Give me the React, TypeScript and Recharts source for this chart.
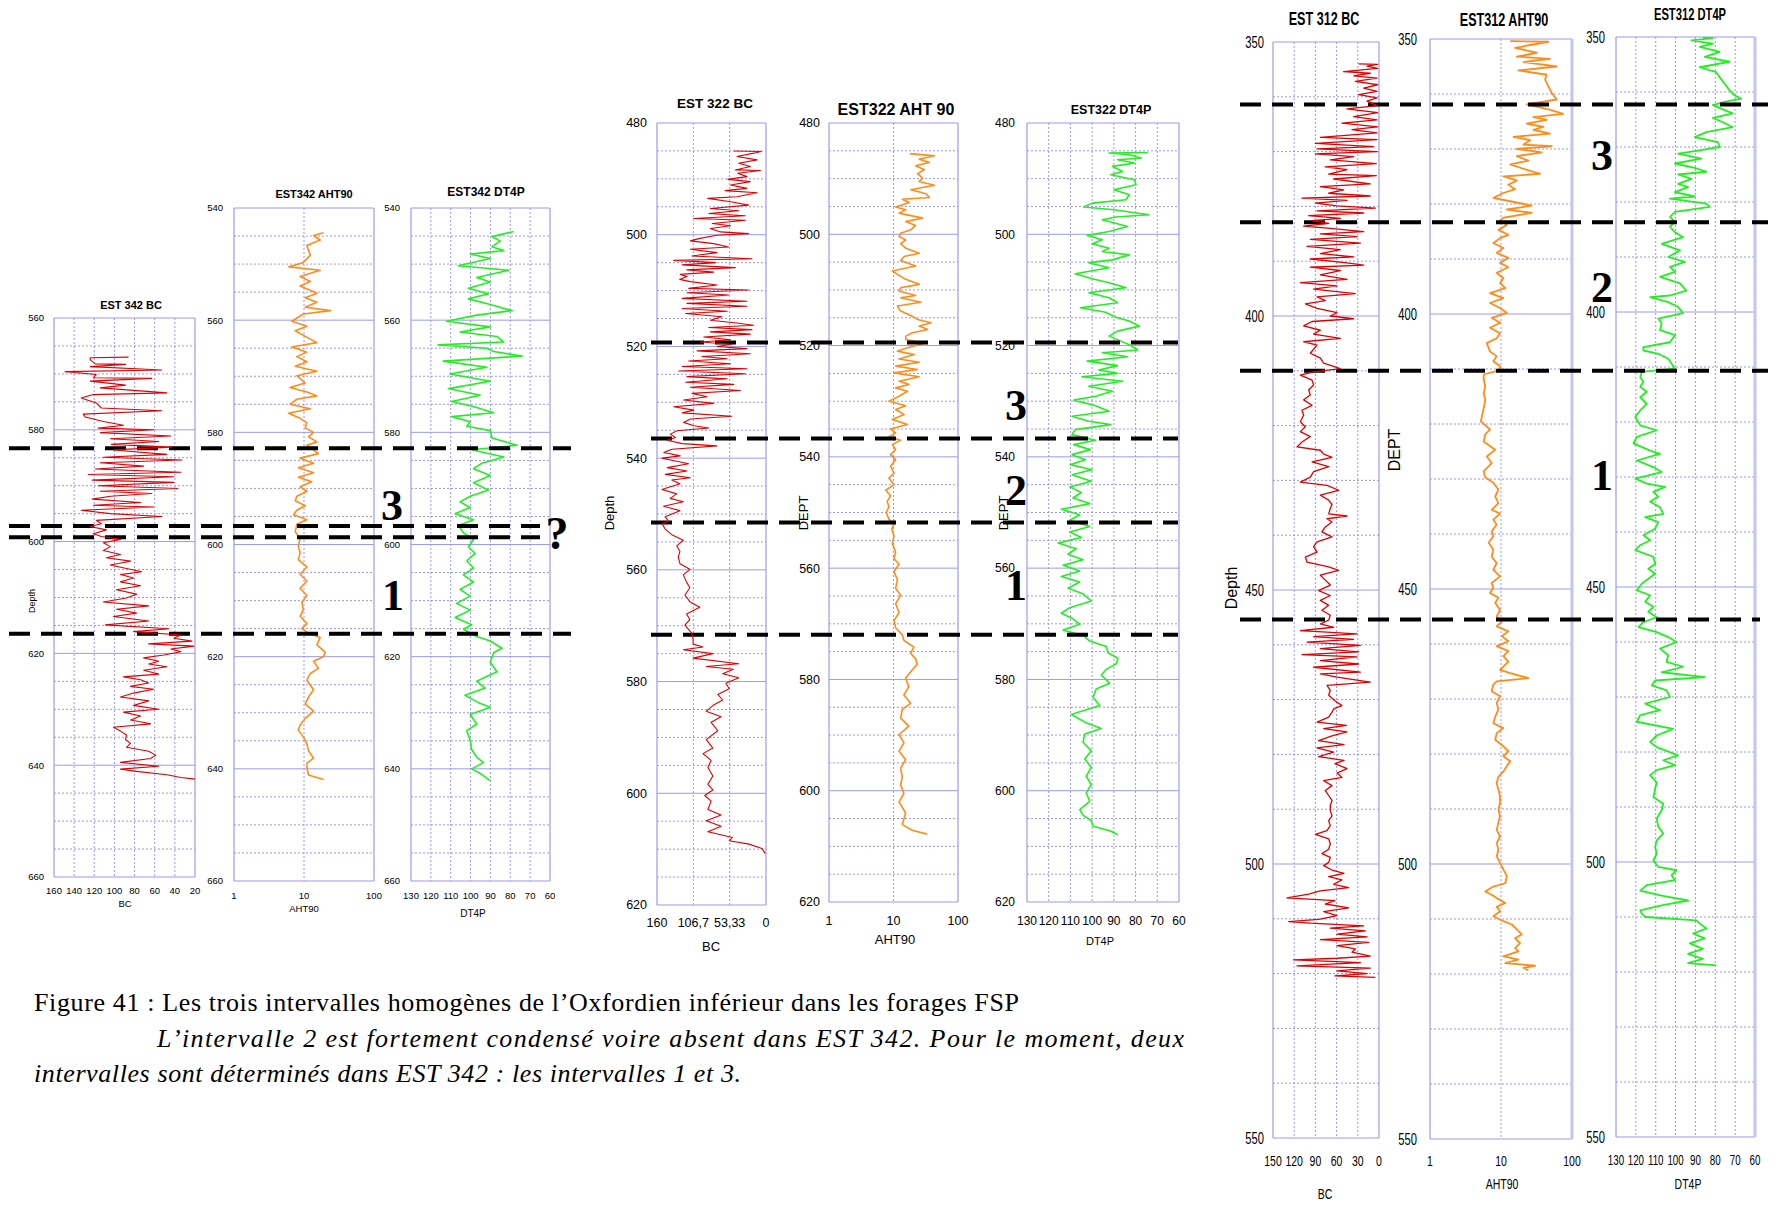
import React from "react";
import { ScatterChart, Scatter, XAxis, YAxis, CartesianGrid, ReferenceLine } from "recharts";

// ---- EST 342 ----
const EST342_BC_DEPTH = [567.0,567.1,567.5,568.2,568.3,568.7,569.3,569.6,570.1,570.7,570.8,571.3,572.0,572.5,573.4,573.7,574.3,575.2,576.1,576.6,577.2,577.7,578.5,579.2,579.7,580.0,580.5,581.1,581.6,582.1,582.6,583.1,583.6,584.4,584.9,585.4,585.9,586.5,587.0,587.6,588.0,588.4,589.0,589.4,590.0,590.5,591.0,591.4,591.9,592.4,593.0,593.5,593.8,594.4,595.0,595.5,596.2,596.8,597.3,597.9,598.6,599.1,599.6,600.2,600.9,601.6,602.3,602.9,603.5,604.2,604.8,605.4,605.9,606.5,607.2,607.9,608.6,609.4,610.1,610.8,611.5,612.1,612.8,613.4,614.2,614.9,615.6,616.1,616.7,617.3,617.8,618.3,618.7,619.2,619.7,620.3,620.8,621.4,621.9,622.4,623.0,623.7,624.2,624.7,625.3,625.9,626.4,627.1,627.8,628.5,629.3,630.0,630.5,631.2,631.9,632.6,633.2,633.9,634.6,635.4,636.1,636.8,637.5,638.2,638.8,639.5,640.2,640.7,641.1,641.7,642.2,642.5];
const EST342_BC = [86,124,124,119,89,124,53,149,118,121,63,124,89,114,48,121,133,118,113,53,131,129,111,91,116,61,114,44,104,56,103,43,101,48,111,33,114,71,119,34,126,41,122,41,116,37,114,63,104,122,74,121,61,133,104,53,118,113,124,108,121,113,94,111,104,111,94,108,84,104,88,73,94,81,94,74,98,78,88,111,66,98,78,101,66,109,46,81,34,41,23,66,21,44,34,51,71,56,66,48,71,56,91,74,66,84,61,81,94,66,81,56,91,74,84,64,101,94,88,89,84,88,66,59,64,94,56,94,78,48,34,20];

const EST342_AHT_DEPTH = [544.4,544.9,545.7,546.7,548.4,549.7,550.5,551.1,552.2,553.1,553.9,555.2,556.0,556.8,557.7,558.3,558.9,560.2,561.1,561.9,563.2,564.0,564.8,565.7,566.5,567.4,568.2,569.1,569.9,571.2,572.0,572.8,573.5,574.1,575.0,575.8,576.6,577.5,578.3,579.2,580.0,580.8,581.7,582.3,582.9,583.8,584.6,585.5,586.3,587.2,588.0,588.8,589.7,590.5,591.4,592.2,593.1,593.9,594.7,595.6,596.4,597.7,599.0,600.2,601.5,602.7,604.0,605.3,606.5,607.8,609.1,610.3,611.6,612.8,614.1,615.0,615.8,616.6,617.9,619.2,620.0,620.8,622.1,623.0,624.2,625.9,627.2,628.4,629.7,631.0,632.2,633.1,634.3,635.6,636.8,638.1,639.0,639.8,641.1,641.9];
const EST342_AHT = [19,13.7,17,11,12.3,9.8,6.1,17,8.8,12.3,8.8,15.3,10.4,15.3,10.4,23.8,9.8,6.7,11,7.5,11.6,15.3,6.7,11,7.9,11,7.5,15.3,7.9,10.4,6.3,11,15.3,7.9,6.3,12.3,6.0,8.8,11,10.4,13.7,11.6,15.3,11,12.9,16.1,8.8,13.7,8.3,13.7,8.3,12.9,8.8,11,7.9,7.5,10.4,7.9,7.1,11,7.9,7.5,8.8,8.3,8.8,8.3,11,8.8,11,8.8,11,9.3,9.8,8.8,11,9.3,11.6,17,15.3,20.1,19,13.7,16.1,12.3,11,13.7,11.6,10.4,13.7,10.4,8.8,8.3,9.8,11,11.6,13.7,11,11,11.6,19];

const EST342_DT_DEPTH = [544.2,545.1,545.9,546.9,547.6,548.2,549.0,550.3,551.1,552.4,553.2,554.3,555.3,556.2,557.2,558.3,559.1,560.2,561.2,562.1,562.9,563.9,564.4,565.0,565.6,566.4,567.3,568.4,569.6,570.9,572.2,573.4,574.5,575.5,576.5,577.2,578.1,578.9,579.7,581.0,582.3,583.1,584.4,585.5,586.5,587.7,589.0,590.3,591.4,592.4,593.4,594.5,595.6,596.6,597.9,599.1,600.4,601.6,602.9,604.2,605.4,606.7,608.0,609.2,610.5,611.7,613.0,614.3,615.1,616.4,617.2,618.5,619.3,621.0,622.7,624.4,625.6,626.9,628.2,629.0,630.3,632.0,633.2,634.9,636.6,637.9,638.9,640.0,640.8,642.1];
const EST342_DT = [78.3,89.2,85,89.2,83.3,100.2,90.1,106.2,80.8,96.9,90.1,101.1,90.9,101.1,90.1,79.1,96.9,112.1,90.1,105.3,86.7,83.3,116.3,91.8,88.4,74,113.8,91.8,110.4,90.1,111.2,95.2,109.5,97.7,88.4,109.5,100.2,101.9,90.1,89.2,76.6,99.4,83.3,94.3,98.5,90.1,98.5,90.9,100.2,105.3,100.2,107.8,98.5,106.2,103.6,98.5,101.1,97.7,101.9,98.5,103.6,98.5,105.3,100.2,107.1,100.2,107.8,99.4,103.6,96.9,90.1,84.2,88.4,90.1,86.7,96.9,92.6,102.8,96,90.1,100.2,96.9,101.9,100.2,99.4,96.9,93.5,99.4,95.2,90.1];

// ---- EST 322 ----
const EST322_BC_DEPTH = [485.0,485.1,485.4,486.0,486.6,487.2,487.8,488.4,488.5,489.0,489.6,490.1,490.5,491.1,491.7,492.1,492.5,493.2,493.5,494.1,494.7,495.3,495.7,496.2,496.6,497.1,497.4,498.0,498.4,498.9,499.5,499.8,500.1,500.7,501.1,501.6,502.2,502.6,503.2,503.8,504.3,504.6,505.0,505.4,505.9,506.3,506.7,507.1,507.5,508.0,508.4,509.0,509.6,509.9,510.4,510.8,511.4,511.9,512.3,512.8,513.2,513.7,514.1,514.7,515.3,515.8,516.2,516.6,517.0,517.4,517.8,518.3,518.8,519.2,519.6,520.0,520.4,520.8,521.3,521.8,522.2,522.6,523.1,523.6,524.0,524.4,524.9,525.4,525.8,526.4,526.8,527.3,527.9,528.4,529.0,529.6,530.2,530.8,531.4,531.9,532.5,533.0,533.6,534.2,534.6,535.1,535.7,536.3,536.8,537.4,537.8,538.4,539.0,539.6,540.0,540.5,541.0,541.7,542.3,542.9,543.5,543.9,544.6,545.6,546.4,547.2,547.8,548.6,549.4,550.5,551.3,551.7,552.7,553.7,554.7,555.7,556.7,557.7,558.9,559.9,560.9,562.2,563.2,564.5,565.7,566.7,567.9,568.9,569.9,571.3,572.3,573.3,573.8,574.3,575.0,575.8,576.8,577.3,577.8,578.6,579.3,580.3,581.3,582.3,583.3,584.3,585.3,586.3,587.3,588.8,590.4,591.9,592.9,594.1,595.4,596.9,598.4,599.4,600.4,601.4,602.9,603.9,604.9,605.9,606.9,607.9,608.5,609.1,609.9,610.8];
const EST322_BC = [47.5,7,18,42.6,13,40,23,45,8,41.6,28,56,23,52,28,60,13,42.6,85.6,52,25.5,81.7,40,84,30.4,106,30.4,79,52,81.7,67,25.5,72,98.8,111,76.8,54.8,111,72,108.6,20.6,135.5,74,123,45,116,76.8,125.8,116,126.7,111,72,113.5,25.5,116,54.8,123,28,116,28,123,57,118,64.6,81.7,42.6,18,84,20.6,81.7,23,91.5,52,96.4,50,72,28,101,23,94,57,113.5,52,123,28,128,30.4,116,57,118,47.5,111,37.7,108.6,86.6,121,76.8,135.5,106,123,50,111,121,106,84,130.6,140.4,133,145,123,72,138,150,125.8,152.7,133,113.5,145,116,147.8,111,138.3,126.3,152.8,131,140.7,121.4,150.4,126.3,148,143,152.8,148,138.3,121.4,131,126.3,128.7,126.3,111.8,121.4,116.6,111.8,119,111.8,97.3,116.6,111.8,119,109.4,107,107,92.5,121.4,78,107,40,87.7,48,63.6,40,58.8,54,70.8,63.6,78,87.7,66,80.5,70.8,87.7,78,92.5,80.5,85.3,78,85.3,78,90,80.5,85.3,66,87.7,66,85.3,49.2,54,25,5.8,1];

const EST322_AHT_DEPTH = [485.5,485.9,486.5,487.1,487.7,488.4,489.1,489.9,490.5,491.2,492.0,492.7,493.4,493.7,494.3,495.1,495.6,496.2,497.1,497.7,498.4,499.2,499.8,500.4,501.0,501.7,502.5,503.4,504.0,504.7,505.7,506.6,507.2,508.1,509.0,509.6,510.2,511.0,511.4,512.2,512.9,513.8,514.6,515.3,515.9,516.5,517.1,517.7,518.3,518.9,519.6,520.4,521.0,521.6,522.4,523.0,523.7,524.3,524.9,525.6,526.4,527.0,527.6,528.2,529.1,530.0,530.8,531.5,532.4,533.3,534.2,535.0,535.7,536.4,537.0,537.8,538.7,539.6,540.5,541.7,542.9,543.8,545.0,546.0,547.0,548.0,549.0,550.0,551.2,552.0,553.0,554.2,555.6,557.1,558.3,559.3,560.6,562.1,563.6,564.9,566.4,568.0,569.4,570.7,572.0,573.0,574.2,575.3,576.3,577.3,578.3,579.8,581.3,582.8,584.3,585.4,586.9,588.4,589.9,591.4,592.9,594.4,596.0,597.5,599.0,600.5,602.0,603.0,604.0,605.1,606.1,607.1,607.8];
const EST322_AHT = [17.9,43,25,36,22,30,23.6,28.3,25,43,18.6,31.9,36,13.7,17.5,10.8,15.5,12.2,28.3,15.5,22,18.6,12.9,12.2,15.5,12.9,15.5,25,14.6,12.9,22,9.6,11.5,15.5,25,12.9,12.2,22,12.9,26.7,11.5,12.9,18.6,23.6,38.2,25,33.9,19.7,15.5,15.5,30,16.5,11.5,20.9,12.2,25,10.8,23.6,10.2,25,12.2,17.5,10.8,16.5,12.2,8.5,15.5,10.8,14.6,9.6,16.5,9.0,10.8,8.5,12.9,9.6,10.8,9.0,10.8,9.0,10.2,8.5,10.2,7.6,9.0,8.0,8.5,7.7,8.5,10.2,9.4,10.2,9.6,10.8,10.2,12.2,10.2,11.5,10.8,12.9,10.8,12.2,10.2,10.8,13.7,14.5,20.7,18.4,22,23.3,19.5,15.4,17.3,14.5,18.4,13.7,12.9,17.3,12.2,14.5,12.2,15.4,12.9,13.7,12.9,14.5,12.2,13.7,15.4,14.5,13.7,19.5,33.3];

const EST322_DT_DEPTH = [485.3,485.4,485.7,486.3,486.6,487.2,487.8,488.7,489.3,490.2,491.1,492.0,492.9,493.8,494.4,495.1,495.6,496.5,496.9,497.4,498.6,499.5,500.2,501.0,501.7,502.5,503.1,503.7,504.6,505.1,506.0,507.1,508.0,508.7,509.6,510.5,511.4,512.3,513.2,514.0,514.9,515.6,516.5,517.4,518.3,519.2,520.0,520.8,521.3,522.0,522.8,523.6,524.4,525.0,525.6,526.4,527.3,528.2,529.1,529.8,530.8,531.8,532.7,533.6,534.2,535.1,536.0,537.0,537.8,538.7,539.6,540.5,541.4,542.3,543.2,544.4,545.4,546.4,547.4,548.4,549.4,550.4,551.4,552.5,553.5,554.5,555.5,556.5,557.5,558.5,559.5,560.5,561.5,562.5,563.6,564.6,565.9,567.1,568.1,569.1,570.1,571.1,572.1,573.1,574.1,575.2,576.2,577.2,578.2,579.2,580.7,581.7,583.2,584.7,586.3,587.8,588.8,589.8,591.3,592.8,594.3,595.8,597.4,598.9,600.4,601.9,603.4,604.4,605.4,606.4,607.2,607.9];
const EST322_DT = [74.3,92.2,82.9,77.4,88.3,80.5,90.7,86,91.4,80.5,79.8,89.9,82.9,84.4,100,103.9,89.9,73.9,89.1,95.3,83.7,92.2,102.3,95.3,100,92.2,95.3,82.9,90.7,101.5,92.2,107.8,100,92.2,84.4,101.5,92.2,88.3,105.4,93.8,89.1,82.9,78.2,88.3,92.2,86.8,82.1,79,95.3,83.7,102.3,88.3,96.9,88.3,104.7,86,101.5,90.7,98.4,108.5,98.4,92.2,109.3,101.5,91.4,107.8,109.3,98.4,108.5,100.8,109.3,103.1,110.1,100,109.3,100.4,110.3,105,108.8,101.1,114.2,105.7,110.3,101.1,110.3,105,115.7,107.3,111.1,104.2,113.4,105.7,114.2,105.7,111.1,104.2,100.4,110.3,114.2,108.8,105.7,113.4,104.2,101.1,93.5,92.7,88.1,88.9,93.5,95.8,91.9,98.1,99.6,96.5,109.6,102.7,95.8,103.4,104.2,100.4,103.4,100.4,102.7,100.4,102.7,101.1,105.7,104.2,100.4,99.6,91.9,88.1];

// ---- EST 312 ----
const EST312_BC_DEPTH = [354.0,354.1,354.4,354.8,355.4,355.7,356.2,356.6,357.2,357.8,358.4,359.0,359.6,360.2,360.8,361.6,362.2,362.9,363.6,364.2,364.8,365.5,366.0,366.6,367.4,367.8,368.5,369.1,369.5,370.0,370.4,370.9,371.5,372.2,372.8,373.3,374.1,374.4,375.0,375.9,376.4,377.0,377.6,378.1,378.5,378.9,379.4,379.9,380.3,380.8,381.2,381.7,382.2,382.6,383.1,383.6,384.0,384.6,385.0,385.5,386.0,386.7,387.3,387.9,388.6,389.2,389.6,390.3,390.7,391.1,391.7,392.5,393.3,393.9,394.5,395.1,395.9,396.5,397.2,397.8,398.6,399.4,400.0,400.5,401.0,401.8,402.6,403.3,404.1,404.7,405.3,406.8,407.7,408.6,409.6,410.2,410.8,411.7,412.6,413.5,414.4,415.3,416.3,417.2,418.1,419.3,420.2,421.1,422.0,423.0,423.9,424.5,425.2,425.8,426.6,427.5,428.4,429.4,430.3,430.9,431.8,432.7,433.6,434.4,435.1,436.1,436.5,437.0,437.6,438.5,439.4,440.3,441.2,442.1,443.1,444.0,444.9,445.8,446.4,447.3,448.2,449.1,450.1,451.0,451.9,452.8,453.7,454.6,455.5,456.2,456.8,457.4,458.0,458.5,459.0,459.5,460.1,460.7,461.3,461.8,462.2,462.9,463.5,464.1,465.0,465.3,465.9,466.8,467.4,468.3,469.2,470.2,471.1,471.7,472.3,473.2,474.1,474.7,475.3,475.9,476.6,477.5,478.2,478.8,479.6,480.4,481.1,481.7,482.6,483.4,484.2,484.8,485.7,486.6,487.5,488.4,489.3,490.3,491.2,492.1,493.0,493.9,494.6,495.4,496.3,497.3,498.1,498.8,499.7,500.3,501.1,501.7,502.3,502.9,503.7,504.3,504.9,505.5,506.2,506.7,507.3,508.0,508.7,509.4,510.1,510.5,510.8,511.3,511.7,512.2,512.8,513.3,513.8,514.3,514.9,515.5,516.1,516.8,517.2,517.5,518.0,518.6,519.0,519.5,520.0,520.4,520.7];
const EST312_BC = [28.8,1.9,17,1.9,50,12.3,35.8,2.8,33.5,1.9,21.7,2.8,28.8,2.8,17,2.8,45.3,1.9,35.8,2.8,52.4,1.9,38.2,2.8,83,2.8,90,7.5,87.7,2.8,90,35.8,68.9,3.8,76,45.3,71.2,3.8,64.2,12.3,83,50,71.2,12.3,109,45.3,90,59.4,5.2,87.7,21.7,99.5,54.7,94.8,71.2,106.6,68.9,21.7,83,31.1,97.2,26.4,101.9,54.7,83,35.8,97.2,45.3,21.7,97.2,54.7,83,45.3,111.3,59.4,92.5,33.5,87.7,76,104.2,87.7,59.4,68.9,35.8,94.8,106.6,83,92.5,54.7,106.6,87.7,97.2,83,78.3,54.7,92.5,111.3,94.8,92.5,99.5,97.2,106.6,94.8,109,106.6,111.3,104.2,111.3,97.2,109,116,83,78.3,66.5,94.8,71.2,92.5,97.2,111.3,73.6,57.1,83,71.2,66.5,68.9,71.2,45.3,73.6,66.5,76,80.7,66.5,87.7,92.5,87.7,104.2,101.9,71.2,57.1,83,76,68.9,85.4,68.9,83,71.2,80.7,68.9,71.2,83,64.2,111.3,31.1,92.5,35.8,101.9,26.4,83,28.8,109,31.1,83,28.8,92.5,26.4,83,59.4,12.3,73.6,68.9,71.2,62.3,52.4,64.2,66.5,71.2,87.7,46.2,78.3,45.3,66.5,85.4,49.5,87.7,64.2,85.4,49.5,62.3,45.3,59.4,52.4,78.3,66.5,76,71.2,66.5,68.9,68.9,66.5,71.2,68.9,73.6,90,71.2,68.9,71.2,80.7,68.9,71.2,78.3,66.5,49.5,71.2,52.4,64.2,42.9,83,99.5,130.2,62.3,76,42.9,78.3,59.4,85.4,127.8,97.2,21.7,68.9,19.3,59.4,16.9,83,14.6,59.4,33.5,38.2,12.3,59.4,120.8,26.4,116,12.3,59.4,16.9,62.3,5.2];

const EST312_AHT_DEPTH = [350.4,350.5,351.0,351.6,352.5,353.2,353.6,354.2,355.0,355.7,356.5,357.4,358.6,359.8,361.0,361.9,362.8,363.6,364.2,364.7,365.4,366.0,366.5,367.2,367.8,368.4,369.2,369.5,370.0,370.6,371.3,372.1,372.8,373.8,374.5,375.0,375.7,376.5,377.3,378.0,378.9,379.5,380.3,381.0,381.6,382.5,383.0,383.8,384.7,385.6,386.2,387.1,388.0,388.9,389.8,390.7,391.5,392.5,393.5,394.4,395.3,396.2,397.1,398.0,398.9,399.8,400.7,401.6,402.5,403.5,404.4,405.3,406.8,407.7,408.6,409.5,410.2,411.0,411.9,413.2,414.4,415.6,417.1,418.6,419.5,421.0,421.9,423.2,424.7,425.9,427.1,428.6,429.7,430.7,431.9,433.2,434.4,435.6,436.3,437.4,438.3,439.5,440.4,441.6,442.8,444.1,445.3,446.5,447.7,448.9,449.8,450.7,451.6,452.5,453.8,455.0,455.9,456.8,457.7,458.6,459.5,460.4,461.3,462.2,463.2,464.1,464.7,465.3,466.2,466.8,467.4,468.6,469.5,470.7,471.9,473.2,474.4,475.3,476.2,477.4,478.6,479.5,480.4,481.3,482.2,483.2,484.1,485.3,486.5,487.7,488.9,490.1,491.3,492.5,493.8,495.0,496.2,497.4,498.6,499.8,501.0,502.2,503.5,504.1,505.0,505.6,506.2,507.1,507.8,508.6,509.5,510.4,511.0,511.9,512.8,513.5,514.4,515.3,515.9,516.8,517.4,518.0,518.5,518.9,519.3];
const EST312_AHT = [13.5,46.5,28.6,15.8,31.9,16.7,49.1,20.7,60.9,17.6,44,41.8,46.5,51.8,60.9,23.1,46.5,75.5,28.6,44,23.1,39.5,28.6,49.1,15,25.7,20.7,51.8,16.7,37.5,16.7,24.3,13.5,23.1,35.5,10.8,16.7,12.7,15.8,10.8,7.8,13.5,27.1,12.1,27.1,10.8,9.7,12.1,9.2,12.7,9.7,7.8,10.8,8.7,12.7,9.7,12.7,8.7,10.8,9.7,11.5,7.0,10.8,7.0,9.7,12.1,7.4,9.7,7.0,9.7,8.7,6.3,7.0,8.7,7.8,9.7,9.7,5.7,5.7,6.0,5.7,6.0,5.7,5.4,5.2,7.0,6.0,5.7,8.3,6.3,7.4,5.7,6.0,7.8,9.2,8.3,9.2,7.4,9.7,7.8,8.7,7.4,7.8,6.7,7.8,7.4,8.7,7.8,9.7,7.4,7.8,7.0,9.2,8.3,9.7,8.7,10.3,8.7,12.7,10.3,12.7,8.7,12.7,10.8,12.7,10.8,9.7,13.5,24.3,8.7,7.8,7.4,9.7,8.7,9.2,8.3,7.8,10.8,8.7,8.3,10.8,12.7,10.8,13.5,12.1,10.8,9.2,8.7,9.2,9.7,9.7,9.2,9.7,9.2,8.7,9.7,8.7,9.2,8.7,9.7,10.8,12.1,11.5,7.8,6.0,7.4,8.7,11.5,8.7,9.7,7.8,10.8,14.2,16.7,19.6,15.8,18.6,15.8,17.6,10.8,17.6,11.5,30.2,20.7,24.3];

const EST312_DT_DEPTH = [350.1,350.2,350.6,351.2,351.8,352.7,353.6,354.5,355.5,356.4,357.3,358.5,359.7,360.6,361.2,361.8,362.4,363.3,363.9,364.7,365.5,366.4,367.3,368.2,369.1,370.0,370.7,371.2,372.1,373.0,373.8,374.5,375.0,375.8,376.7,377.3,378.2,379.0,379.4,380.3,380.9,381.8,382.7,383.6,384.5,385.5,386.4,387.6,388.8,390.0,390.9,391.8,392.7,393.6,394.8,396.1,397.0,397.3,398.2,399.1,400.2,401.2,402.1,403.3,404.2,405.5,406.4,407.0,407.6,408.5,409.4,410.3,410.9,411.8,412.7,413.6,414.5,415.5,416.7,417.9,419.1,420.6,421.5,422.7,423.9,425.2,425.8,427.0,428.2,429.1,430.3,431.2,431.8,432.7,433.6,434.5,435.5,436.7,437.3,438.2,439.4,440.6,441.5,442.4,443.3,444.5,445.8,446.7,447.6,448.5,449.4,450.6,451.5,452.7,453.6,454.5,455.5,456.4,457.3,458.2,459.1,460.0,461.2,462.4,463.6,464.5,465.5,466.4,467.0,467.9,468.8,470.0,471.2,472.4,473.3,474.5,475.8,477.0,478.2,479.1,480.6,481.5,482.4,483.3,484.2,485.5,486.7,488.2,489.4,490.6,492.1,493.6,494.8,496.1,497.3,498.5,499.7,500.9,501.5,502.4,503.3,504.2,505.2,506.1,507.0,507.9,508.8,509.4,510.0,510.6,511.2,512.1,513.0,513.9,514.8,515.8,516.7,517.6,518.4,518.8];
const EST312_DT = [86.2,81.2,92,81.2,87.8,77.8,85.3,72.8,87.8,79.5,77.8,75.3,72.8,70.3,67,75.3,81.2,75.3,71.2,81.2,76.2,71.2,84.5,90.3,78.7,77.8,89.5,98.7,87,100.3,90.3,84.5,98.7,92,98.7,93.7,100.3,90.3,102.8,84.5,82.8,100.3,102.8,100.3,102.8,100.3,96.2,107,97.8,103.7,95.3,102.8,100.3,107.8,97.8,94.5,102.8,112.8,103.7,98.7,96.2,108.7,107,107.8,100.3,102.8,116.2,116.2,108.7,103.7,102,100.3,117,117.8,116.2,117.8,114.5,117.8,114.5,117.8,120.3,117.8,109.5,119.5,121.2,112.8,107.8,119.5,111.2,107,120.3,114.5,105.3,111.2,108.7,112.8,107.8,106.2,115.3,108.7,110.3,116.2,112.8,117.8,120.3,111.2,110.3,113.7,110.3,113.7,117,119.5,112.8,115.3,111.2,113.7,109.5,116.2,118.7,109.5,103.7,99.5,107.8,103.7,104.5,96.2,107,85.3,110.3,112,104.5,102.8,115.3,107.8,117.8,119.5,101.2,109.5,112.8,109.5,98.7,106.2,100.3,109.5,112.8,109.5,110.3,111.2,106.2,107,109.5,108.7,106.2,109.5,110.3,109.5,111.2,108.7,99.5,102,100.3,114.5,117.8,107,93.7,107,117.8,117,115.3,89.5,87.8,84.5,91.2,85.3,92.8,86.2,93.7,86.2,93.7,79.5];

// ---- axis ticks ----
const BC342_TICKS = [160, 140, 120, 100, 80, 60, 40, 20];
const AHT_TICKS = [1, 10, 100];
const DT_TICKS = [130, 120, 110, 100, 90, 80, 70, 60];
const BC322_TICKS = [160, 106.7, 53.33, 0];
const BC312_TICKS = [150, 120, 90, 60, 30, 0];
const DEPTH_342A = [560, 580, 600, 620, 640, 660];
const DEPTH_342 = [540, 560, 580, 600, 620, 640, 660];
const DEPTH_322 = [480, 500, 520, 540, 560, 580, 600, 620];
const DEPTH_312 = [350, 400, 450, 500, 550];

// interval boundaries (depth) per well
const LIMITS_342 = [583.3, 597.2, 599.2, 616.5];
const LIMITS_322 = [519.3, 536.5, 551.5, 571.6];
const LIMITS_312 = [361.4, 382.9, 410.0, 455.4];

const SANS = '"Liberation Sans", Arial, sans-serif';
const SERIF = '"Liberation Serif", "Times New Roman", serif';
const GRID = "#8c8ce6";
const FRAME = "#9a9aee";
const RED = "#e00000";
const ORANGE = "#ff8c1a";
const GREEN = "#22ee22";
const NARROW_X = 0.7; // the EST 312 logs use a condensed face

const steps = (a: number, b: number, s: number) => {
  const out: number[] = [];
  for (let v = a; v <= b + 1e-6; v += s) out.push(v);
  return out;
};

type Dash = { depth: number; from: number; to: number };
type PanelDef = {
  key: string;
  plot: { x: number; y: number; w: number; h: number };
  depths: number[];
  values: number[];
  depthDomain: [number, number];
  depthTicks: number[];
  minorStep: number;
  xDomain: [number, number];
  xTicks: number[];
  log?: boolean;
  reversed?: boolean;
  color: string;
  lw: number;
  fontSize: number;
  xFontSize?: number;
  squeeze?: number;
  xMargin: number;
  yMargin: number;
  xFmt?: (v: number) => string;
  dashes?: Dash[];
  rightFrame?: number;
};

const dashRow = (limits: number[], from: number, to: number[]): Dash[] =>
  limits.map((d, i) => ({ depth: d, from, to: to[i] }));

const PANELS: PanelDef[] = [
  {
    key: "342bc", plot: { x: 54, y: 318, w: 141, h: 559 },
    depths: EST342_BC_DEPTH, values: EST342_BC, depthDomain: [560, 660], depthTicks: DEPTH_342A, minorStep: 5,
    xDomain: [20, 160], xTicks: BC342_TICKS, reversed: true, color: RED, lw: 1.1,
    fontSize: 9.5, xMargin: 10, yMargin: 10,
    dashes: dashRow(LIMITS_342, 9, [571, 540, 540, 571]),
  },
  {
    key: "342aht", plot: { x: 234, y: 208, w: 140, h: 673 },
    depths: EST342_AHT_DEPTH, values: EST342_AHT, depthDomain: [540, 660], depthTicks: DEPTH_342, minorStep: 5,
    xDomain: [1, 100], xTicks: AHT_TICKS, log: true, color: ORANGE, lw: 1.6,
    fontSize: 9.5, xMargin: 11, yMargin: 11,
  },
  {
    key: "342dt", plot: { x: 411, y: 208, w: 139, h: 673 },
    depths: EST342_DT_DEPTH, values: EST342_DT, depthDomain: [540, 660], depthTicks: DEPTH_342, minorStep: 5,
    xDomain: [60, 130], xTicks: DT_TICKS, reversed: true, color: GREEN, lw: 1.6,
    fontSize: 9.5, xMargin: 11, yMargin: 11,
  },
  {
    key: "322bc", plot: { x: 657, y: 123, w: 109, h: 782 },
    depths: EST322_BC_DEPTH, values: EST322_BC, depthDomain: [480, 620], depthTicks: DEPTH_322, minorStep: 5,
    xDomain: [0, 160], xTicks: BC322_TICKS, reversed: true, color: RED, lw: 1.1,
    fontSize: 12.5, xMargin: 13, yMargin: 10,
    xFmt: (v: number) => String(v).replace(".", ","),
    dashes: dashRow(LIMITS_322, 651, [1178, 1178, 1178, 1178]),
  },
  {
    key: "322aht", plot: { x: 829, y: 123, w: 129, h: 779 },
    depths: EST322_AHT_DEPTH, values: EST322_AHT, depthDomain: [480, 620], depthTicks: DEPTH_322, minorStep: 5,
    xDomain: [1, 100], xTicks: AHT_TICKS, log: true, color: ORANGE, lw: 1.6,
    fontSize: 12.5, xMargin: 14, yMargin: 9,
  },
  {
    key: "322dt", plot: { x: 1027, y: 123, w: 152, h: 779 },
    depths: EST322_DT_DEPTH, values: EST322_DT, depthDomain: [480, 620], depthTicks: DEPTH_322, minorStep: 5,
    xDomain: [60, 130], xTicks: DT_TICKS, reversed: true, color: GREEN, lw: 1.6,
    fontSize: 12, xMargin: 14, yMargin: 12,
  },
  {
    key: "312bc", plot: { x: 1273, y: 42, w: 106, h: 1096 },
    depths: EST312_BC_DEPTH, values: EST312_BC, depthDomain: [350, 550], depthTicks: DEPTH_312, minorStep: 10,
    xDomain: [0, 150], xTicks: BC312_TICKS, reversed: true, color: RED, lw: 1.3,
    fontSize: 16, xFontSize: 15, squeeze: NARROW_X, xMargin: 17, yMargin: 9,
    dashes: dashRow(LIMITS_312, 1240, [1768, 1768, 1768, 1760]),
  },
  {
    key: "312aht", plot: { x: 1430, y: 39, w: 142, h: 1100 },
    depths: EST312_AHT_DEPTH, values: EST312_AHT, depthDomain: [350, 550], depthTicks: DEPTH_312, minorStep: 10,
    xDomain: [1, 100], xTicks: AHT_TICKS, log: true, color: ORANGE, lw: 1.8,
    fontSize: 16, xFontSize: 15, squeeze: NARROW_X, xMargin: 16, yMargin: 13, rightFrame: 3,
  },
  {
    key: "312dt", plot: { x: 1616, y: 37, w: 139, h: 1100 },
    depths: EST312_DT_DEPTH, values: EST312_DT, depthDomain: [350, 550], depthTicks: DEPTH_312, minorStep: 10,
    xDomain: [60, 130], xTicks: DT_TICKS, reversed: true, color: GREEN, lw: 1.8,
    fontSize: 16, xFontSize: 14, squeeze: NARROW_X, xMargin: 18, yMargin: 11, rightFrame: 3,
  },
];

const noDot = () => <g />;

// tick label with optional horizontal squeeze
const makeTick = (fs: number, sx: number, dy: string, fmt?: (v: number) => string) => (props: any) => {
  const { x, y, payload, textAnchor } = props;
  const label = fmt ? fmt(payload.value) : String(payload.value);
  return (
    <text
      transform={`translate(${x},${y}) scale(${sx},1)`}
      textAnchor={textAnchor}
      dy={dy}
      fontSize={fs}
      fontFamily={SANS}
      fill="#000"
    >
      {label}
    </text>
  );
};

function LogPanel({ def }: { def: PanelDef }) {
  const L = 70, R = 14, T = 14, B = 40;
  const { x, y, w, h } = def.plot;
  const left = x - L;
  const top = y - T;
  const n = Math.min(def.depths.length, def.values.length);
  const data: { depth: number; v: number }[] = [];
  for (let i = 0; i < n; i++) data.push({ depth: def.depths[i], v: def.values[i] });
  const [d0, d1] = def.depthDomain;
  const [xa, xb] = def.xDomain;
  const minor = steps(d0, d1, def.minorStep).filter((d) => !def.depthTicks.includes(d));
  const major = def.depthTicks.filter((d) => d !== d0 && d !== d1);
  const vgrid = def.xTicks.filter((t) => t !== xa && t !== xb);
  const sx = def.squeeze || 1;

  return (
    <div style={{ position: "absolute", left, top, zIndex: def.dashes ? 3 : 1 }}>
      <ScatterChart width={w + L + R} height={h + T + B} margin={{ top: T, right: R, bottom: 0, left: 0 }}>
        <CartesianGrid
          horizontalValues={minor}
          verticalValues={vgrid}
          stroke={GRID}
          strokeDasharray="2 2"
          strokeWidth={0.9}
        />
        <XAxis
          type="number"
          dataKey="v"
          domain={def.xDomain}
          ticks={def.xTicks}
          scale={def.log ? "log" : "linear"}
          reversed={def.reversed}
          allowDataOverflow
          interval={0}
          height={B}
          tickLine={false}
          axisLine={false}
          tickSize={0}
          tickMargin={def.xMargin}
          tick={makeTick(def.xFontSize || def.fontSize, sx, "0.71em", def.xFmt)}
        />
        <YAxis
          type="number"
          dataKey="depth"
          domain={def.depthDomain}
          ticks={def.depthTicks}
          reversed
          allowDataOverflow
          interval={0}
          width={L}
          tickLine={false}
          axisLine={false}
          tickSize={0}
          tickMargin={def.yMargin}
          tick={makeTick(def.fontSize, sx, "0.355em")}
        />
        {major.map((d) => (
          <ReferenceLine key={"m" + d} y={d} stroke={FRAME} strokeWidth={1} />
        ))}
        <ReferenceLine y={d0} stroke={FRAME} strokeWidth={1.2} />
        <ReferenceLine y={d1} stroke={FRAME} strokeWidth={1.2} />
        <ReferenceLine x={def.reversed ? xb : xa} stroke={FRAME} strokeWidth={1.2} />
        <ReferenceLine x={def.reversed ? xa : xb} stroke={def.rightFrame ? "#c4c4f4" : FRAME} strokeWidth={def.rightFrame || 1.2} />
        <Scatter
          data={data}
          fill={def.color}
          line={{ stroke: def.color, strokeWidth: def.lw, strokeLinejoin: "round" }}
          lineType="joint"
          shape={noDot}
          isAnimationActive={false}
        />
        {(def.dashes || []).map((ds) => (
          <ReferenceLine
            key={"d" + ds.depth}
            y={ds.depth}
            ifOverflow="visible"
            shape={(p: any) => {
              const yy = p.y1 ?? p.y;
              return (
                <line
                  x1={ds.from - left}
                  x2={ds.to - left}
                  y1={yy}
                  y2={yy}
                  stroke="#000"
                  strokeWidth={4}
                  strokeDasharray="21 11"
                />
              );
            }}
          />
        ))}
      </ScatterChart>
    </div>
  );
}

type Txt = { t: string; x: number; y: number; s: number; f: string; b?: boolean; rot?: boolean; sx?: number };

const LABELS: Txt[] = [
  { t: "EST 342 BC", x: 131, y: 309, s: 11, f: SANS, b: true },
  { t: "EST342 AHT90", x: 314, y: 198, s: 11, f: SANS, b: true },
  { t: "EST342 DT4P", x: 486, y: 196, s: 12, f: SANS, b: true },
  { t: "EST 322 BC", x: 715, y: 108, s: 13.5, f: SANS, b: true },
  { t: "EST322 AHT 90", x: 896, y: 115, s: 16, f: SANS, b: true },
  { t: "EST322 DT4P", x: 1111, y: 114, s: 12.5, f: SANS, b: true },
  { t: "EST 312 BC", x: 1324, y: 25, s: 18, f: SANS, b: true, sx: NARROW_X },
  { t: "EST312 AHT90", x: 1504, y: 26, s: 18, f: SANS, b: true, sx: NARROW_X },
  { t: "EST312 DT4P", x: 1690, y: 20, s: 16, f: SANS, b: true, sx: NARROW_X },
  { t: "BC", x: 125, y: 907, s: 9.5, f: SANS },
  { t: "AHT90", x: 304, y: 912, s: 9.5, f: SANS },
  { t: "DT4P", x: 473, y: 917, s: 10, f: SANS },
  { t: "BC", x: 711, y: 951, s: 13, f: SANS },
  { t: "AHT90", x: 895, y: 944, s: 13, f: SANS },
  { t: "DT4P", x: 1100, y: 945, s: 11, f: SANS },
  { t: "BC", x: 1325, y: 1199, s: 15, f: SANS, sx: NARROW_X },
  { t: "AHT90", x: 1502, y: 1189, s: 15, f: SANS, sx: NARROW_X },
  { t: "DT4P", x: 1688, y: 1189, s: 15, f: SANS, sx: NARROW_X },
  { t: "Depth", x: 31.5, y: 601, s: 9, f: SANS, rot: true },
  { t: "Depth", x: 609, y: 513, s: 13, f: SANS, rot: true },
  { t: "DEPT", x: 803, y: 513, s: 13, f: SANS, rot: true },
  { t: "DEPT", x: 1003, y: 513, s: 13, f: SANS, rot: true },
  { t: "Depth", x: 1231, y: 588, s: 16, f: SANS, rot: true },
  { t: "DEPT", x: 1394, y: 450, s: 16, f: SANS, rot: true },
];

const INTERVALS: Txt[] = [
  { t: "3", x: 392, y: 520, s: 44, f: SERIF, b: true },
  { t: "1", x: 393, y: 610, s: 44, f: SERIF, b: true },
  { t: "?", x: 557, y: 549, s: 46, f: SERIF, b: true },
  { t: "3", x: 1016, y: 420, s: 44, f: SERIF, b: true },
  { t: "2", x: 1016, y: 505, s: 44, f: SERIF, b: true },
  { t: "1", x: 1016, y: 600, s: 44, f: SERIF, b: true },
  { t: "3", x: 1602, y: 170, s: 44, f: SERIF, b: true },
  { t: "2", x: 1602, y: 302, s: 44, f: SERIF, b: true },
  { t: "1", x: 1602, y: 490, s: 44, f: SERIF, b: true },
];

const CAPTION = [
  { t: "Figure 41 : Les trois intervalles homogènes de l’Oxfordien inférieur dans les forages FSP", x: 34, y: 1011, w: 985, it: false },
  { t: "L’intervalle 2 est fortement condensé voire absent dans EST 342. Pour le moment, deux", x: 157, y: 1047, w: 1027, it: true },
  { t: "intervalles sont déterminés dans EST 342 : les intervalles 1 et 3.", x: 34, y: 1082, w: 707, it: true },
];

export default function App() {
  return (
    <div style={{ position: "absolute", left: 0, top: 0, width: 1775, height: 1209, background: "#fff", overflow: "hidden" }}>
      <style>{`.recharts-surface{overflow:visible}`}</style>
      {PANELS.map((p) => (
        <LogPanel key={p.key} def={p} />
      ))}
      <svg width={1775} height={1209} style={{ position: "absolute", left: 0, top: 0, zIndex: 10, pointerEvents: "none" }}>
        {LABELS.map((l, i) =>
          l.rot ? (
            <text key={i} transform={`translate(${l.x},${l.y}) rotate(-90)`} textAnchor="middle" dy="0.36em" fontSize={l.s} fontFamily={l.f} fill="#000">
              {l.t}
            </text>
          ) : (
            <text
              key={i}
              transform={`translate(${l.x},${l.y}) scale(${l.sx || 1},1)`}
              textAnchor="middle"
              fontSize={l.s}
              fontFamily={l.f}
              fontWeight={l.b ? 700 : 400}
              fill="#000"
            >
              {l.t}
            </text>
          )
        )}
        {INTERVALS.map((l, i) => (
          <text key={"n" + i} x={l.x} y={l.y} textAnchor="middle" fontSize={l.s} fontFamily={l.f} fontWeight={700} fill="#000">
            {l.t}
          </text>
        ))}
        {CAPTION.map((c, i) => (
          <text
            key={"c" + i}
            x={c.x}
            y={c.y}
            fontSize={26}
            fontFamily={SERIF}
            fontStyle={c.it ? "italic" : "normal"}
            textLength={c.w}
            lengthAdjust="spacing"
            fill="#000"
          >
            {c.t}
          </text>
        ))}
      </svg>
    </div>
  );
}
